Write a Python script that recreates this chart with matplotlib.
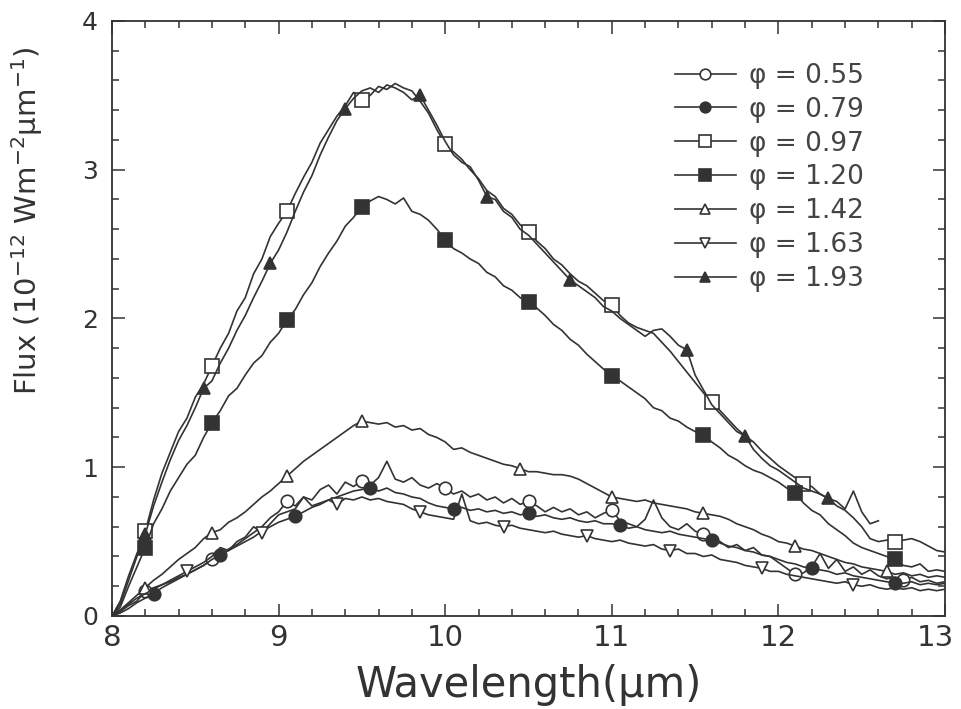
import numpy as np
import matplotlib
matplotlib.use("Agg")
import matplotlib.pyplot as plt
import matplotlib.transforms as mtransforms

# wavelength grid (um), 0.05 step
wl = np.round(np.linspace(8.0, 13.0, 101), 2)

phases = ["0.55", "0.79", "0.97", "1.20", "1.42", "1.63", "1.93"]
markers = ["o", "o", "s", "s", "^", "v", "^"]
filled = [False, True, False, True, False, False, True]

flux_055 = [0.00, 0.03, 0.07, 0.10, 0.17, 0.19, 0.21, 0.23, 0.26, 0.28,
            0.31, 0.34, 0.38, 0.40, 0.45, 0.48, 0.52, 0.56, 0.60, 0.66,
            0.70, 0.77, 0.74, 0.80, 0.78, 0.85, 0.88, 0.82, 0.90, 0.87,
            0.91, 0.88, 0.93, 1.04, 0.92, 0.90, 0.93, 0.88, 0.86, 0.89,
            0.86, 0.82, 0.84, 0.80, 0.82, 0.78, 0.80, 0.76, 0.79, 0.75,
            0.77, 0.74, 0.70, 0.73, 0.70, 0.72, 0.68, 0.70, 0.66, 0.69,
            0.71, 0.64, 0.62, 0.60, 0.65, 0.78, 0.66, 0.60, 0.58, 0.62,
            0.57, 0.55, 0.52, 0.50, 0.46, 0.48, 0.44, 0.46, 0.41, 0.40,
            0.36, 0.32, 0.28, 0.29, 0.33, 0.42, 0.32, 0.38, 0.30, 0.33,
            0.28, 0.31, 0.27, 0.25, 0.26, 0.24, 0.26, 0.23, 0.24, 0.22,
            0.23]
flux_079 = [0.00, 0.02, 0.05, 0.09, 0.12, 0.15, 0.19, 0.22, 0.25, 0.28,
            0.31, 0.34, 0.38, 0.41, 0.44, 0.47, 0.50, 0.53, 0.57, 0.60,
            0.63, 0.65, 0.67, 0.70, 0.73, 0.75, 0.78, 0.80, 0.82, 0.84,
            0.85, 0.86, 0.84, 0.86, 0.83, 0.82, 0.80, 0.79, 0.76, 0.74,
            0.73, 0.72, 0.73, 0.71, 0.72, 0.70, 0.71, 0.69, 0.70, 0.68,
            0.69, 0.67, 0.68, 0.66, 0.65, 0.66, 0.64, 0.63, 0.64, 0.62,
            0.62, 0.61, 0.59, 0.60, 0.58, 0.57, 0.56, 0.57, 0.55, 0.54,
            0.53, 0.52, 0.51, 0.49, 0.47, 0.46, 0.44, 0.43, 0.41, 0.40,
            0.38, 0.36, 0.35, 0.33, 0.32, 0.31, 0.30, 0.28, 0.29, 0.27,
            0.26, 0.25, 0.24, 0.23, 0.22, 0.22, 0.23, 0.21, 0.22, 0.21,
            0.22]
flux_097 = [0.00, 0.08, 0.24, 0.40, 0.57, 0.78, 0.96, 1.10, 1.24, 1.33,
            1.47, 1.56, 1.68, 1.80, 1.90, 2.05, 2.14, 2.30, 2.40, 2.55,
            2.64, 2.72, 2.84, 2.95, 3.05, 3.18, 3.27, 3.36, 3.43, 3.52,
            3.47, 3.50, 3.56, 3.54, 3.58, 3.55, 3.53, 3.46, 3.38, 3.27,
            3.17, 3.12, 3.07, 3.00, 2.94, 2.86, 2.82, 2.74, 2.70, 2.63,
            2.58, 2.52, 2.47, 2.40, 2.36, 2.30, 2.25, 2.22, 2.17, 2.12,
            2.09, 2.02, 1.97, 1.94, 1.92, 1.90, 1.84, 1.78, 1.71, 1.64,
            1.57, 1.50, 1.44, 1.38, 1.32, 1.26, 1.21, 1.17, 1.11, 1.06,
            1.01, 0.97, 0.93, 0.89, 0.87, 0.82, 0.79, 0.74, 0.71, 0.66,
            0.60, 0.52, 0.50, 0.51, 0.50, 0.51, 0.52, 0.50, 0.47, 0.44,
            0.43]
flux_120 = [0.00, 0.06, 0.20, 0.33, 0.46, 0.62, 0.72, 0.84, 0.93, 1.02,
            1.08, 1.20, 1.30, 1.38, 1.48, 1.53, 1.62, 1.70, 1.75, 1.84,
            1.90, 1.99, 2.06, 2.16, 2.24, 2.35, 2.44, 2.52, 2.62, 2.68,
            2.75, 2.79, 2.82, 2.80, 2.77, 2.81, 2.72, 2.70, 2.66, 2.60,
            2.53, 2.47, 2.44, 2.40, 2.37, 2.31, 2.28, 2.22, 2.19, 2.14,
            2.11, 2.07, 2.02, 1.96, 1.92, 1.86, 1.82, 1.76, 1.71, 1.66,
            1.61, 1.58, 1.54, 1.50, 1.46, 1.40, 1.38, 1.33, 1.31, 1.27,
            1.24, 1.22, 1.17, 1.13, 1.08, 1.05, 1.01, 0.98, 0.96, 0.93,
            0.90, 0.86, 0.83, 0.76, 0.71, 0.68, 0.62, 0.58, 0.54, 0.49,
            0.46, 0.44, 0.42, 0.40, 0.38, 0.34, 0.33, 0.35, 0.30, 0.31,
            0.30]
flux_142 = [0.00, 0.04, 0.09, 0.14, 0.19, 0.24, 0.28, 0.33, 0.38, 0.42,
            0.46, 0.52, 0.56, 0.58, 0.63, 0.66, 0.70, 0.75, 0.80, 0.84,
            0.89, 0.94, 0.99, 1.04, 1.08, 1.12, 1.16, 1.20, 1.24, 1.28,
            1.31, 1.30, 1.29, 1.30, 1.27, 1.28, 1.25, 1.26, 1.22, 1.20,
            1.17, 1.12, 1.13, 1.10, 1.08, 1.06, 1.04, 1.02, 1.01, 0.99,
            0.97, 0.97, 0.96, 0.95, 0.95, 0.94, 0.92, 0.89, 0.86, 0.83,
            0.80, 0.79, 0.78, 0.77, 0.78, 0.76, 0.75, 0.74, 0.73, 0.72,
            0.70, 0.69, 0.68, 0.67, 0.65, 0.62, 0.60, 0.58, 0.55, 0.53,
            0.50, 0.49, 0.47, 0.45, 0.44, 0.42, 0.40, 0.38, 0.36, 0.35,
            0.33, 0.32, 0.31, 0.30, 0.28, 0.29, 0.27, 0.28, 0.26, 0.27,
            0.26]
flux_163 = [0.00, 0.04, 0.08, 0.12, 0.15, 0.18, 0.21, 0.24, 0.27, 0.30,
            0.33, 0.36, 0.40, 0.46, 0.44, 0.50, 0.53, 0.60, 0.56, 0.62,
            0.68, 0.70, 0.72, 0.80, 0.74, 0.76, 0.78, 0.75, 0.79, 0.78,
            0.80, 0.78, 0.79, 0.77, 0.76, 0.75, 0.72, 0.70, 0.68, 0.67,
            0.66, 0.65, 0.82, 0.64, 0.62, 0.63, 0.61, 0.60, 0.61, 0.59,
            0.58, 0.57, 0.56, 0.57, 0.55, 0.54, 0.53, 0.54, 0.52, 0.51,
            0.50, 0.51, 0.49, 0.48, 0.47, 0.48, 0.45, 0.44, 0.45, 0.42,
            0.42, 0.40, 0.41, 0.38, 0.37, 0.36, 0.34, 0.33, 0.32, 0.30,
            0.30, 0.28, 0.27, 0.26, 0.25, 0.24, 0.23, 0.22, 0.23, 0.21,
            0.20, 0.21, 0.19, 0.18, 0.19, 0.18, 0.19, 0.17, 0.18, 0.17,
            0.18]
# this one stops near 12.6 um
flux_193 = [0.00, 0.10, 0.27, 0.42, 0.55, 0.74, 0.90, 1.05, 1.18, 1.28,
            1.40, 1.53, 1.58, 1.70, 1.80, 1.92, 2.02, 2.14, 2.25, 2.37,
            2.46, 2.58, 2.72, 2.85, 2.96, 3.10, 3.22, 3.33, 3.41, 3.48,
            3.53, 3.55, 3.52, 3.57, 3.55, 3.52, 3.47, 3.50, 3.40, 3.30,
            3.19, 3.10, 3.05, 3.02, 2.93, 2.82, 2.80, 2.72, 2.68, 2.60,
            2.56, 2.50, 2.44, 2.38, 2.32, 2.26, 2.22, 2.18, 2.14, 2.08,
            2.05, 2.00, 1.96, 1.92, 1.88, 1.92, 1.93, 1.88, 1.82, 1.79,
            1.62, 1.52, 1.42, 1.36, 1.30, 1.24, 1.21, 1.12, 1.06, 1.01,
            0.98, 0.94, 0.90, 0.86, 0.84, 0.82, 0.79, 0.77, 0.72, 0.84,
            0.70, 0.62, 0.64]

# wavelengths where the symbols sit on each curve
mark_055 = [8.2, 8.6, 9.05, 9.5, 10.0, 10.5, 11.0, 11.55, 12.1, 12.75]
mark_079 = [8.25, 8.65, 9.1, 9.55, 10.05, 10.5, 11.05, 11.6, 12.2, 12.7]
mark_097 = [8.2, 8.6, 9.05, 9.5, 10.0, 10.5, 11.0, 11.6, 12.15, 12.7]
mark_120 = [8.2, 8.6, 9.05, 9.5, 10.0, 10.5, 11.0, 11.55, 12.1, 12.7]
mark_142 = [8.2, 8.6, 9.05, 9.5, 10.45, 11.0, 11.55, 12.1, 12.65]
mark_163 = [8.45, 8.9, 9.35, 9.85, 10.35, 10.85, 11.35, 11.9, 12.45]
mark_193 = [8.2, 8.55, 8.95, 9.4, 9.85, 10.25, 10.75, 11.45, 11.8, 12.3]

series = [flux_055, flux_079, flux_097, flux_120, flux_142, flux_163, flux_193]
marks = [mark_055, mark_079, mark_097, mark_120, mark_142, mark_163, mark_193]

ink = "#333333"

fig = plt.figure(figsize=(9.61, 7.09), dpi=100)
ax = fig.add_axes([0.1165, 0.1312, 0.8669, 0.8392])

for ph, y, mk, fl, ms in zip(phases, series, markers, filled, marks):
    x = wl[:len(y)]
    idx = [int(np.abs(x - m).argmin()) for m in ms]
    size = 10 if mk == "s" else 9
    ax.plot(x, y, color=ink, lw=1.2, marker=mk, markevery=idx,
            markersize=size, markerfacecolor=ink if fl else "white",
            markeredgecolor=ink, markeredgewidth=1.2,
            label="\u03c6 = " + ph)

ax.set_xlim(8, 13)
ax.set_ylim(0, 4)
ax.set_xticks([8, 9, 10, 11, 12, 13])
ax.set_yticks([0, 1, 2, 3, 4])
ax.set_xticks(np.arange(8, 13.01, 0.2), minor=True)
ax.set_yticks(np.arange(0, 4.01, 0.2), minor=True)
ax.tick_params(which="both", direction="in", top=True, right=True,
               color=ink, width=1.1)
ax.tick_params(which="major", length=9)
ax.tick_params(which="minor", length=5)
ax.tick_params(axis="x", labelsize=21, pad=6, labelcolor=ink)
ax.tick_params(axis="y", labelsize=18, pad=10, labelcolor=ink)
for s in ax.spines.values():
    s.set_color(ink)
    s.set_linewidth(1.3)

# nudge the "13" label a little left so it stays inside the figure
last = ax.get_xticklabels()[-1]
last.set_transform(last.get_transform() +
                   mtransforms.ScaledTranslation(-7 / 72, 0, fig.dpi_scale_trans))

ax.set_xlabel("Wavelength(\u03bcm)", fontsize=30, color=ink)
ax.xaxis.set_label_coords(0.5, -0.08)
ax.set_ylabel("Flux (10$^{-12}$ Wm$^{-2}$\u03bcm$^{-1}$)", fontsize=21,
              color=ink)
ax.yaxis.set_label_coords(-0.08, 0.665)

leg = ax.legend(loc="upper left", bbox_to_anchor=(0.66, 0.952),
                frameon=False, fontsize=19, handlelength=2.3,
                handletextpad=0.5, labelspacing=0.3, markerscale=0.85,
                borderpad=0)
for t in leg.get_texts():
    t.set_color("#444444")

fig.savefig("out.png", dpi=100)
